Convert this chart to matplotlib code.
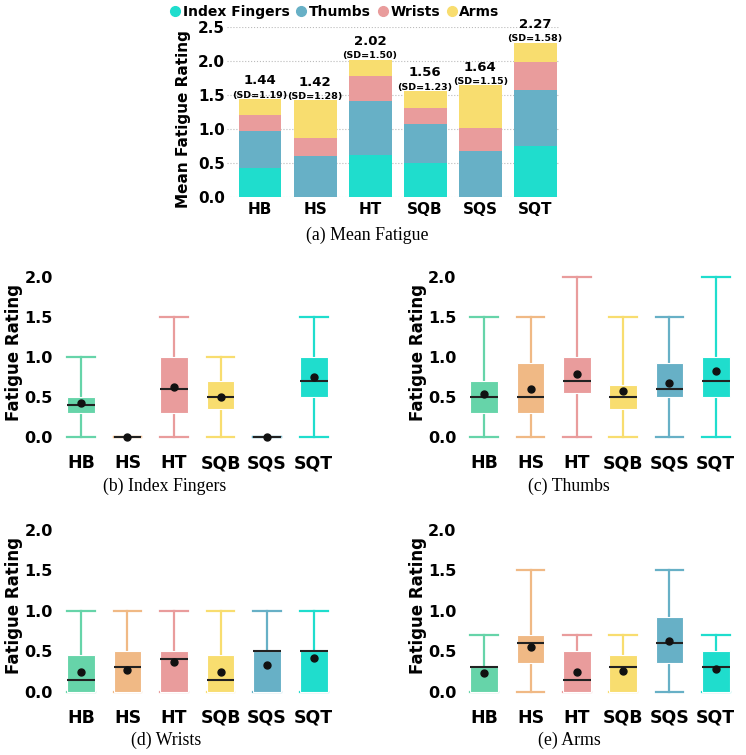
#!/usr/bin/env python3

import matplotlib
matplotlib.use("Agg")
import matplotlib.pyplot as plt
from matplotlib.lines import Line2D

plt.rcParams["font.family"] = ["DejaVu Sans"]
plt.rcParams["font.weight"] = "bold"

conditions = ["HB", "HS", "HT", "SQB", "SQS", "SQT"]

# stacked means per body part
mean_index = [0.43, 0.00, 0.62, 0.50, 0.00, 0.75]
mean_thumbs = [0.54, 0.60, 0.79, 0.57, 0.68, 0.82]
mean_wrists = [0.24, 0.27, 0.37, 0.24, 0.33, 0.42]
mean_arms = [0.23, 0.55, 0.24, 0.25, 0.63, 0.28]
totals = [1.44, 1.42, 2.02, 1.56, 1.64, 2.27]
sds = [1.19, 1.28, 1.50, 1.23, 1.15, 1.58]

# boxplot five-number summaries: whislo, q1, median, q3, whishi
index_box = [
    [0, 0.30, 0.40, 0.50, 1.0],
    [0, 0.00, 0.00, 0.00, 0.0],
    [0, 0.30, 0.60, 1.00, 1.5],
    [0, 0.35, 0.50, 0.70, 1.0],
    [0, 0.00, 0.00, 0.00, 0.0],
    [0, 0.50, 0.70, 1.00, 1.5],
]
thumbs_box = [
    [0, 0.30, 0.50, 0.70, 1.5],
    [0, 0.30, 0.50, 0.93, 1.5],
    [0, 0.55, 0.70, 1.00, 2.0],
    [0, 0.35, 0.50, 0.65, 1.5],
    [0, 0.50, 0.60, 0.93, 1.5],
    [0, 0.50, 0.70, 1.00, 2.0],
]
wrists_box = [
    [0, 0.00, 0.15, 0.45, 1.0],
    [0, 0.00, 0.30, 0.50, 1.0],
    [0, 0.00, 0.40, 0.50, 1.0],
    [0, 0.00, 0.15, 0.45, 1.0],
    [0, 0.00, 0.50, 0.50, 1.0],
    [0, 0.00, 0.50, 0.50, 1.0],
]
arms_box = [
    [0, 0.00, 0.30, 0.30, 0.7],
    [0, 0.35, 0.60, 0.70, 1.5],
    [0, 0.00, 0.15, 0.50, 0.7],
    [0, 0.00, 0.30, 0.45, 0.7],
    [0, 0.35, 0.60, 0.93, 1.5],
    [0, 0.00, 0.30, 0.50, 0.7],
]

part_labels = ["Index Fingers", "Thumbs", "Wrists", "Arms"]
part_colors = ["#1fddcd", "#67b0c6", "#e99c9c", "#f8dd6f"]
cond_colors = ["#66d4a9", "#f0b985", "#e99c9c", "#f8dd6f", "#67b0c6", "#1fddcd"]

W, H = 746, 755
fig = plt.figure(figsize=(W / 100, H / 100), dpi=100)


def px_axes(left, top, right, bottom):
    return fig.add_axes([left / W, 1 - bottom / H, (right - left) / W, (bottom - top) / H])


def clean(ax):
    for s in ax.spines.values():
        s.set_visible(False)
    ax.tick_params(length=0)


# (a) stacked bar chart
ax = px_axes(227, 27, 560, 197)
x = list(range(len(conditions)))
bottom = [0.0] * len(conditions)
for vals, lab, col in zip([mean_index, mean_thumbs, mean_wrists, mean_arms], part_labels, part_colors):
    ax.bar(x, vals, bottom=bottom, width=0.78, color=col, label=lab, zorder=2)
    bottom = [b + v for b, v in zip(bottom, vals)]
for xi, t, sd in zip(x, totals, sds):
    ax.annotate(f"(SD={sd:.2f})", (xi, t), xytext=(0, -0.5), textcoords="offset points",
                ha="center", va="bottom", fontsize=6.8, fontweight="bold")
    ax.annotate(f"{t:.2f}", (xi, t), xytext=(0, 8.5), textcoords="offset points",
                ha="center", va="bottom", fontsize=9.5, fontweight="bold")
ax.set_ylim(0, 2.5)
ax.set_xlim(-0.6, 5.45)
ax.set_yticks([0, 0.5, 1.0, 1.5, 2.0, 2.5])
ax.set_yticklabels([f"{v:.1f}" for v in [0, 0.5, 1.0, 1.5, 2.0, 2.5]], fontsize=11)
ax.set_xticks(x)
ax.set_xticklabels(conditions, fontsize=11)
ax.grid(axis="y", linestyle=":", color="#bbbbbb", linewidth=0.8, zorder=0)
ax.set_ylabel("Mean Fatigue Rating", fontsize=11, fontweight="bold")
ax.yaxis.set_label_coords(-0.108, 0.46)
clean(ax)
ax.tick_params(axis="x", pad=3.5)
ax.tick_params(axis="y", pad=1.5)

handles = [Line2D([], [], marker="o", linestyle="", markersize=7, color=c) for c in part_colors]
fig.legend(handles, part_labels, loc="center", bbox_to_anchor=(335 / W, 1 - 12 / H), ncol=4,
           frameon=False, handlelength=0.7, handletextpad=0.2, columnspacing=0.5, borderpad=0,
           prop={"weight": "bold", "size": 10})


def box_panel(ax, boxes, means):
    stats = []
    for b, m in zip(boxes, means):
        stats.append({"whislo": b[0], "q1": b[1], "med": b[2], "q3": b[3], "whishi": b[4],
                      "mean": m, "fliers": []})
    art = ax.bxp(stats, positions=range(len(stats)), widths=0.6, capwidths=0.6,
                 patch_artist=True, showmeans=True, showfliers=False,
                 medianprops=dict(color="#222222", linewidth=1.5, zorder=4),
                 meanprops=dict(marker="o", markerfacecolor="#111111", markeredgecolor="#111111",
                                markersize=5, zorder=5))
    for i, c in enumerate(cond_colors):
        art["boxes"][i].set_facecolor(c)
        art["boxes"][i].set_edgecolor("white")
        art["boxes"][i].set_linewidth(0.8)
        art["boxes"][i].set_zorder(3)
        for ln in art["whiskers"][2 * i:2 * i + 2] + art["caps"][2 * i:2 * i + 2]:
            ln.set_color(c)
            ln.set_linewidth(1.6)
            ln.set_zorder(2)
    ax.set_ylim(-0.1, 2.1)
    ax.set_xlim(-0.45, 5.46)
    ax.set_yticks([0, 0.5, 1.0, 1.5, 2.0])
    ax.set_yticklabels([f"{v:.1f}" for v in [0, 0.5, 1.0, 1.5, 2.0]], fontsize=11.5)
    ax.set_xticks(range(len(conditions)))
    ax.set_xticklabels(conditions, fontsize=12.5)
    ax.set_ylabel("Fatigue Rating", fontsize=12, fontweight="bold")
    ax.yaxis.set_label_coords(-0.134, 0.528)
    clean(ax)
    ax.tick_params(axis="x", pad=6.5)
    ax.tick_params(axis="y", pad=5)


ax_b = px_axes(60, 268.6, 335, 445.3)
box_panel(ax_b, index_box, mean_index)
ax_c = px_axes(463.5, 268.6, 737, 445.3)
box_panel(ax_c, thumbs_box, mean_thumbs)
ax_d = px_axes(60, 521.9, 335, 699.8)
box_panel(ax_d, wrists_box, mean_wrists)
ax_e = px_axes(463.5, 521.9, 737, 699.8)
box_panel(ax_e, arms_box, mean_arms)

captions = [
    ("(a) Mean Fatigue", 367, 235),
    ("(b) Index Fingers", 165, 486),
    ("(c) Thumbs", 569, 486),
    ("(d) Wrists", 166, 740),
    ("(e) Arms", 569, 740),
]
for txt, cx, cy in captions:
    fig.text(cx / W, 1 - cy / H, txt, ha="center", va="center", fontsize=12.8,
             fontweight="normal", family=["Liberation Serif", "DejaVu Serif"])

fig.savefig("out.png", dpi=100, facecolor="white")
